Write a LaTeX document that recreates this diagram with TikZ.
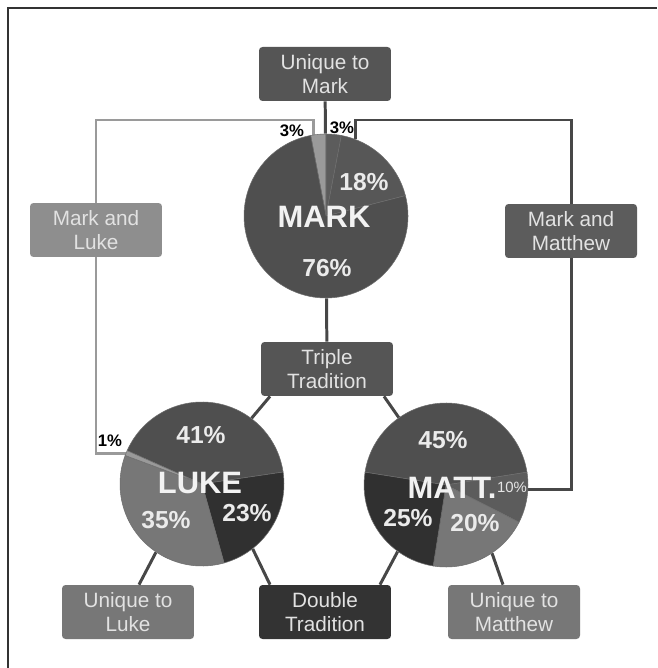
\documentclass[tikz,border=0pt]{standalone}
\usepackage{fontspec}
\setmainfont{Liberation Sans}
\usetikzlibrary{positioning}

\definecolor{boxtext}{HTML}{E2E2E2}
\definecolor{darkbox}{HTML}{555555}
\definecolor{lightbox}{HTML}{8E8E8E}
\definecolor{mattbox}{HTML}{5C5C5C}
\definecolor{uniqbox}{HTML}{777777}
\definecolor{doublebox}{HTML}{333333}
\definecolor{linkdark}{HTML}{474747}
\definecolor{linklight}{HTML}{9A9A9A}
\definecolor{piemain}{HTML}{4F4F4F}
\definecolor{piealt}{HTML}{575757}
\definecolor{piegap}{HTML}{6E6E6E}

% one pie: centre node, start angle, list of share/colour (clockwise)
\newcommand{\slices}[3]{%
  \xdef\slicestart{#2}%
  \foreach \share/\tone in {#3} {%
    \pgfmathsetmacro\sliceend{\slicestart-3.6*\share}%
    \filldraw[fill=\tone, draw=piegap, line width=0.3pt]
      (#1.center) -- ++(\slicestart:1.64cm)
      arc[start angle=\slicestart, end angle=\sliceend, radius=1.64cm] -- cycle;
    \xdef\slicestart{\sliceend}%
  }%
}

\begin{document}
\begin{tikzpicture}[x=0.02cm, y=-0.02cm,
    box/.style={rectangle, rounded corners=2pt, minimum width=2.64cm,
      minimum height=1.08cm, inner sep=0pt, align=center, text=boxtext,
      font=\fontsize{11.8}{13.6}\selectfont},
    pienode/.style={circle, minimum size=3.28cm, inner sep=0pt},
    pct/.style={text=white!92!black, inner sep=0pt,
      font=\bfseries\fontsize{14}{16}\selectfont},
    piename/.style={text=white!95!black, inner sep=0pt,
      font=\bfseries\fontsize{17.6}{19}\selectfont},
    small/.style={inner sep=0pt, font=\bfseries\fontsize{9.5}{10}\selectfont},
    link/.style={draw=linkdark, line width=1.7pt},
    lightlink/.style={draw=linklight, line width=1.7pt}]

  \useasboundingbox[fill=white] (0,0) rectangle (657,668);
  \draw[line width=1.1pt, black!80] (8,668) |- (657,8);

  % boxes
  \node[box, fill=darkbox]   (umark)    at (325,74)  {Unique to\\Mark};
  \node[box, fill=lightbox]  (markluke) at (96,230)  {Mark and\\Luke};
  \node[box, fill=mattbox]   (markmatt) at (571,231) {Mark and\\Matthew};
  \node[box, fill=darkbox]   (triple)   at (327,369) {Triple\\Tradition};
  \node[box, fill=uniqbox]   (uluke)    at (128,612) {Unique to\\Luke};
  \node[box, fill=doublebox] (double)   at (325,612) {Double\\Tradition};
  \node[box, fill=uniqbox]   (umatt)    at (514,612) {Unique to\\Matthew};

  % pies
  \node[pienode] (mark) at (326,216) {};
  \node[pienode] (luke) at (202,484) {};
  \node[pienode] (matt) at (446,485) {};

  \coordinate (mlbend) at (96,120);
  \coordinate (mmbend) at (571,120);

  % connectors
  \path[link] (umark) edge (mark)
              (mark) edge (triple)
              ([xshift=-1.14cm]triple.south) edge (luke.53)
              ([xshift=1.14cm]triple.south) edge (matt.125)
              (luke.-124) edge ([xshift=0.22cm]uluke.north)
              (luke.-52) edge ([xshift=-1.1cm]double.north)
              (matt.-126) edge ([xshift=1.1cm]double.north)
              (matt.-56) edge ([xshift=-0.22cm]umatt.north);
  \draw[lightlink] (mark.99) |- (mlbend) -- (markluke);
  \draw[lightlink] (markluke) |- (luke.158);
  \draw[link] (mark.69) |- (mmbend) -- (markmatt);
  \draw[link] (markmatt) |- (matt.-3.5);

  \slices{mark}{100.8}{3/linklight, 3/mattbox, 18/piealt, 76/piemain}
  \slices{luke}{156}{41/piemain, 23/doublebox!95!black, 35/uniqbox, 1/linklight}
  \slices{matt}{171}{45/piemain, 10/mattbox, 20/uniqbox, 25/doublebox!95!black}

  % labels
  \node[piename] (markname) at (324,217) {MARK};
  \node[pct] (mark18) at (364,182) {18\%};
  \node[pct] (mark76) at (327,268) {76\%};
  \node[small] (mark3l) at (292,131) {3\%};
  \node[small] (mark3r) at (342,128) {3\%};

  \node[piename] (lukename) at (200,483) {LUKE};
  \node[pct] (luke41) at (201,435) {41\%};
  \node[pct] (luke23) at (247,513) {23\%};
  \node[pct] (luke35) at (166,520) {35\%};
  \node[small] (luke1) at (110,441) {1\%};

  \node[piename] (mattname) at (452,488) {MATT.};
  \node[pct] (matt45) at (443,440) {45\%};
  \node[pct] (matt25) at (408,518) {25\%};
  \node[pct] (matt20) at (475,523) {20\%};
  \node[inner sep=0pt, text=white!90!black,
        font=\fontsize{8.5}{9}\selectfont] (matt10) at (512,487) {10\%};
\end{tikzpicture}
\end{document}
